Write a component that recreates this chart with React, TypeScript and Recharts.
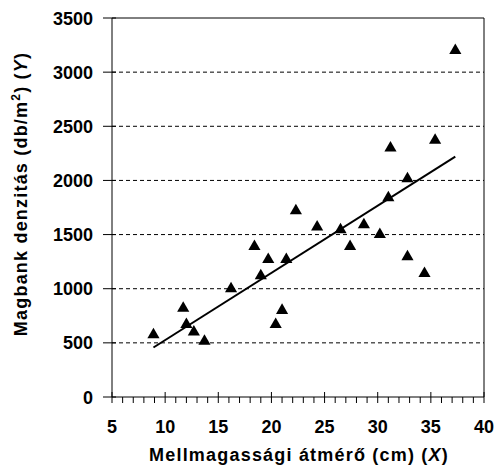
import React from "react";
import {
  ReferenceLine,
  Scatter,
  ScatterChart,
  XAxis,
  YAxis,
  ZAxis,
} from "recharts";

// Mellmagassági átmérő (cm) – X
const diameter = [
  8.9, 11.7, 12.0, 12.7, 13.7, 16.2, 18.4, 19.0, 19.7, 20.4, 21.0, 21.4, 22.3,
  24.3, 26.5, 27.4, 28.7, 30.2, 31.0, 31.2, 32.8, 32.8, 34.4, 35.4, 37.3,
];
// Magbank denzitás (db/m2) – Y
const density = [
  575, 820, 670, 600, 515, 1000, 1390, 1120, 1270, 670, 800, 1270, 1720, 1570,
  1545, 1390, 1590, 1500, 1840, 2300, 2015, 1295, 1140, 2370, 3200,
];

// regression line end points
const trendX = [8.9, 37.3];
const trendY = [457, 2220];

const xTicks = [5, 10, 15, 20, 25, 30, 35, 40];
const yTicks = [0, 500, 1000, 1500, 2000, 2500, 3000, 3500];
const gridY = [500, 1000, 1500, 2000, 2500, 3000];

const points = diameter.map((x, i) => ({ x, y: density[i] }));
const trend = trendX.map((x, i) => ({ x, y: trendY[i] }));

// minor ticks every 1 cm between the labelled ones
const xAllTicks: number[] = [];
for (let v = xTicks[0]; v <= xTicks[xTicks.length - 1]; v++) xAllTicks.push(v);

const FONT = "'Liberation Sans', Arial, sans-serif";

function XTick({ x, y, payload }: any) {
  const major = payload.value % 5 === 0;
  return (
    <g>
      <line
        x1={x}
        x2={x}
        y1={major ? y - 5 : y}
        y2={y + 6}
        stroke="#000"
        strokeWidth={1}
      />
      {major && (
        <text
          x={x}
          y={y + 36}
          textAnchor="middle"
          fontSize={18}
          fontWeight="bold"
          fontFamily={FONT}
          fill="#000"
        >
          {payload.value}
        </text>
      )}
    </g>
  );
}

function YTick({ x, y, payload }: any) {
  return (
    <g>
      <line x1={x - 9} x2={x + 4} y1={y} y2={y} stroke="#000" strokeWidth={1} />
      <text
        x={x - 19}
        y={y + 6.5}
        textAnchor="end"
        fontSize={18}
        fontWeight="bold"
        fontFamily={FONT}
        fill="#000"
      >
        {payload.value}
      </text>
    </g>
  );
}

export default function App() {
  return (
    <div style={{ position: "absolute", left: 0, top: 0, background: "#fff" }}>
      <ScatterChart
        width={496}
        height={469}
        margin={{ top: 18, right: 12, bottom: 0, left: 0 }}
      >
        <XAxis
          type="number"
          dataKey="x"
          domain={[5, 40]}
          ticks={xAllTicks}
          interval={0}
          height={72}
          tickSize={0}
          tickMargin={0}
          tickLine={false}
          tick={<XTick />}
          axisLine={{ stroke: "#000", strokeWidth: 1 }}
          allowDataOverflow
        />
        <YAxis
          type="number"
          dataKey="y"
          domain={[0, 3500]}
          ticks={yTicks}
          interval={0}
          width={112}
          tickSize={0}
          tickMargin={0}
          tickLine={false}
          tick={<YTick />}
          axisLine={{ stroke: "#000", strokeWidth: 1 }}
          allowDataOverflow
        />
        <ZAxis range={[24, 24]} />
        {gridY.map((v) => (
          <ReferenceLine
            key={v}
            y={v}
            stroke="#000"
            strokeWidth={1}
            strokeDasharray="4 3"
          />
        ))}
        <ReferenceLine y={3500} stroke="#000" strokeWidth={1} />
        <ReferenceLine x={40} stroke="#000" strokeWidth={1} />
        <Scatter
          data={trend}
          line={{ stroke: "#000", strokeWidth: 2 }}
          shape={() => <g />}
          isAnimationActive={false}
        />
        <Scatter
          data={points}
          shape="triangle"
          fill="#000"
          isAnimationActive={false}
        />
        <text
          x={299}
          y={461}
          textAnchor="middle"
          fontSize={18}
          fontWeight="bold"
          letterSpacing={1.2}
          fontFamily={FONT}
          fill="#000"
        >
          Mellmagassági átmérő (cm) (<tspan fontStyle="italic">X</tspan>)
        </text>
        <text
          x={27}
          y={194}
          transform="rotate(-90, 27, 194)"
          textAnchor="middle"
          fontSize={18}
          fontWeight="bold"
          letterSpacing={1.2}
          fontFamily={FONT}
          fill="#000"
        >
          Magbank denzitás (db/m
          <tspan fontSize={12} dy={-7}>
            2
          </tspan>
          <tspan dy={7}>) (</tspan>
          <tspan fontStyle="italic">Y</tspan>)
        </text>
      </ScatterChart>
    </div>
  );
}
